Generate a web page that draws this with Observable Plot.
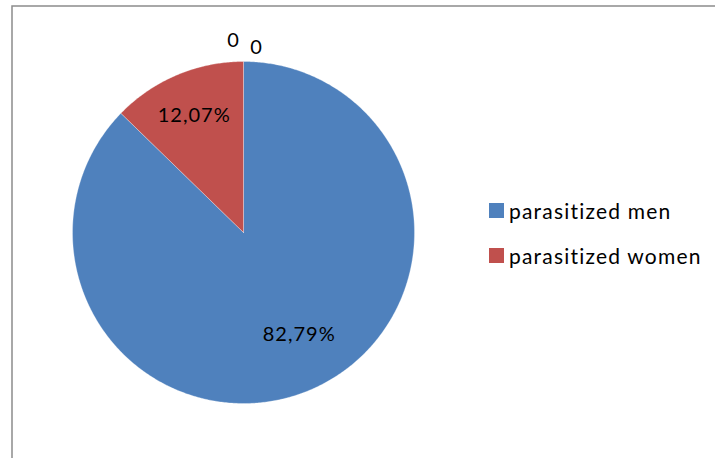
<!DOCTYPE html>
<html>
<head>
<meta charset="utf-8">
<script src="https://cdn.jsdelivr.net/npm/d3@7"></script>
<script src="https://cdn.jsdelivr.net/npm/@observablehq/plot@0.6"></script>
<style>
  body { margin: 0; background: #fff; overflow: hidden; }
  #chart { position: relative; width: 715px; height: 458px; font-family: Lato, "Open Sans", sans-serif; font-variant-ligatures: none; }
  #chart svg { display: block; }
  #chart svg text { letter-spacing: 1px; font-variant-ligatures: none; }
  #legend { position: absolute; left: 489px; top: 195px; }
  .item { display: flex; align-items: center; height: 30px; margin-bottom: 15px; font-size: 21px; letter-spacing: 1.2px; color: #000; }
  .swatch { width: 15px; height: 15px; margin-right: 5px; flex: none; }
</style>
</head>
<body>
<div id="chart"><div id="legend"></div></div>
<script>
// Share of parasitized persons by sex
const categories = ["parasitized men", "parasitized women"];
const percents = [82.79, 12.07];
// two further points of the series, both zero
const zeroPoints = [0, 0];
const colors = ["#4F81BD", "#C0504D"];

const W = 715, H = 458;
const cx = 243, cy = 232, r = 171;   // pie centre and radius in pixels

const values = percents.concat(zeroPoints);
const arcs = d3.pie().sort(null).startAngle(0).endAngle(2 * Math.PI)(values);

// angle measured clockwise from 12 o'clock, unit circle coordinates
const pt = (a, k) => ({x: k * Math.sin(a), y: k * Math.cos(a)});

// slice outlines as closed polygons
const slices = [];
arcs.forEach((d, i) => {
  if (d.endAngle - d.startAngle <= 0) return;
  const key = categories[i];
  slices.push({key, ...pt(0, 0)});
  const n = Math.max(2, Math.ceil((d.endAngle - d.startAngle) / (Math.PI / 360)));
  for (let j = 0; j <= n; ++j) {
    const a = d.startAngle + (d.endAngle - d.startAngle) * j / n;
    slices.push({key, ...pt(a, 1)});
  }
  slices.push({key, ...pt(0, 0)});
});

const fmt = v => v.toFixed(2).replace(".", ",") + "%";

// percentage labels inside the slices
const inner = arcs.slice(0, percents.length).map((d, i) => ({
  ...pt((d.startAngle + d.endAngle) / 2 - (i === 0 ? 0.1 : 0), i === 0 ? 0.68 : 0.74),
  text: fmt(percents[i])
}));

// labels of the zero-sized points, just outside the rim
const outer = arcs.slice(percents.length).map((d, i) => ({
  ...pt(d.startAngle, 1.1),
  text: String(zeroPoints[i])
}));

const chart = Plot.plot({
  width: W,
  height: H,
  margin: 0,
  style: {background: "#fff", fontFamily: "Lato, 'Open Sans', sans-serif", overflow: "hidden"},
  x: {domain: [-cx / r, (W - cx) / r], range: [0, W], axis: null},
  y: {domain: [-(H - cy) / r, cy / r], range: [H, 0], axis: null},
  color: {domain: categories, range: colors},
  marks: [
    Plot.frame({stroke: "#8c8c8c", strokeWidth: 1.5, insetLeft: 11.5, insetTop: 5.5, insetRight: -10, insetBottom: -10}),
    Plot.line(slices, {x: "x", y: "y", z: "key", fill: "key", stroke: "#fff", strokeWidth: 0.5, strokeOpacity: 0.6, curve: "linear"}),
    Plot.text(inner, {x: "x", y: "y", text: "text", fontSize: 20, fill: "#000"}),
    Plot.text(outer.filter((d, i) => i === 0), {x: "x", y: "y", text: "text", fontSize: 20, fill: "#000", dx: -10, dy: -4}),
    Plot.text(outer.filter((d, i) => i === 1), {x: "x", y: "y", text: "text", fontSize: 20, fill: "#000", dx: 13, dy: 3})
  ]
});

const root = document.getElementById("chart");
root.insertBefore(chart, root.firstChild);

const legend = document.getElementById("legend");
categories.forEach((c, i) => {
  const item = document.createElement("div");
  item.className = "item";
  const sw = document.createElement("span");
  sw.className = "swatch";
  sw.style.background = colors[i];
  const label = document.createElement("span");
  label.textContent = c;
  item.append(sw, label);
  legend.append(item);
});
</script>
</body>
</html>
